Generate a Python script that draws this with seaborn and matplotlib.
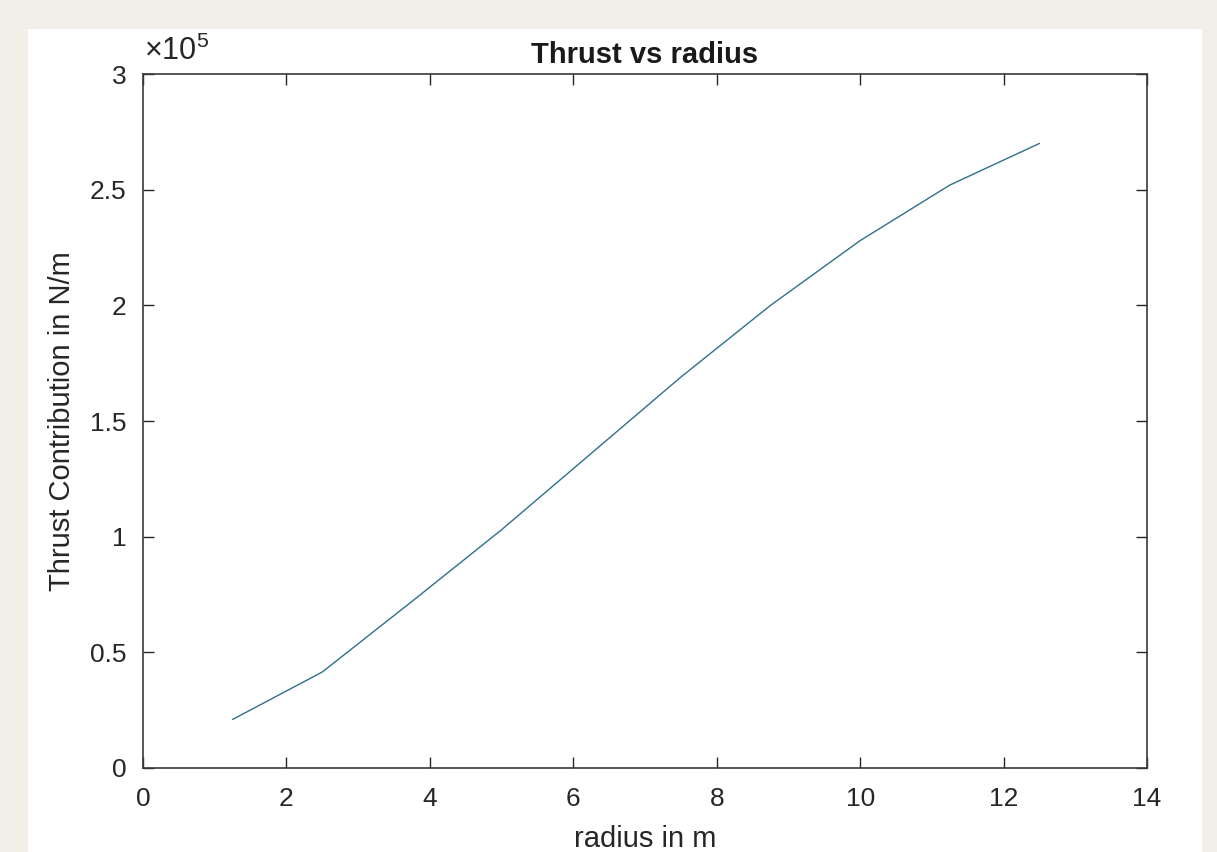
import matplotlib
matplotlib.use("Agg")
import matplotlib.pyplot as plt
import seaborn as sns
import pandas as pd
from matplotlib.patches import Rectangle
from matplotlib.ticker import FuncFormatter

radius = [1.25, 2.5, 3.75, 5.0, 6.25, 7.5, 8.75, 10.0, 11.25, 12.5]
thrust = [21000, 41500, 72000, 103000, 136000, 169000, 200000, 228000, 252000, 270000]
x_ticks = [0, 2, 4, 6, 8, 10, 12, 14]
y_ticks = [0, 50000, 100000, 150000, 200000, 250000, 300000]

sns.set_style("white")
plt.rcParams['font.family'] = ['Liberation Sans', 'DejaVu Sans']
plt.rcParams['mathtext.fontset'] = 'custom'
plt.rcParams['mathtext.rm'] = 'Liberation Sans'
plt.rcParams['mathtext.it'] = 'Liberation Sans'

fig = plt.figure(figsize=(12.17, 8.52), dpi=100)
fig.patch.set_facecolor('#f2efe8')
fig.patches.append(Rectangle((0.023, 0.0), 0.9647, 0.966, transform=fig.transFigure,
                             facecolor='white', edgecolor='none', zorder=-10))

ax = fig.add_axes([0.1175, 0.0986, 0.825, 0.8145])
ax.set_zorder(5)
ax.set_facecolor('white')

df = pd.DataFrame({'radius': radius, 'thrust': thrust})
sns.lineplot(data=df, x='radius', y='thrust', ax=ax, color='#2f6f8c', linewidth=1.0)

ax.set_xlim(0, 14)
ax.set_ylim(0, 300000)
ax.set_xticks(x_ticks)
ax.set_yticks(y_ticks)
ax.yaxis.set_major_formatter(FuncFormatter(lambda v, p: f'{v/1e5:g}'))
ax.tick_params(direction='in', length=8, width=1, colors='#262626', labelsize=19,
               top=True, right=True, bottom=True, left=True)
ax.tick_params(axis='x', pad=14)
ax.tick_params(axis='y', pad=12)
for s in ax.spines.values():
    s.set_color('#3a3a3a')
    s.set_linewidth(1.2)

ax.set_title('Thrust vs radius', fontsize=21, fontweight='bold', color='#1a1a1a', pad=8)
ax.set_xlabel('radius in m', fontsize=21, color='#262626', labelpad=10)
ax.set_ylabel('Thrust Contribution in N/m', fontsize=21, color='#262626', labelpad=10)
ax.text(0.001, 1.01, r'$\times10^5$', transform=ax.transAxes, fontsize=22,
        color='#262626', ha='left', va='bottom')

fig.savefig('out.png', dpi=100, facecolor=fig.get_facecolor())
